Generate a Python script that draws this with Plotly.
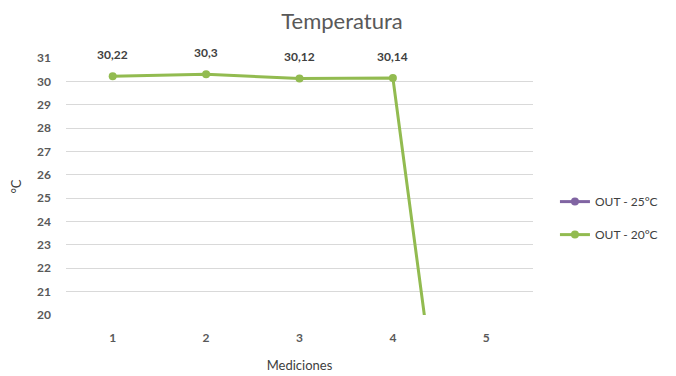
import plotly.graph_objects as go

categories = ["1", "2", "3", "4", "5"]
out_25 = [0, 0, 0, 0, 0]
out_20 = [30.22, 30.3, 30.12, 30.14, 0]
y_ticks = list(range(20, 32))
Y_MIN, Y_MAX = 20, 31

def fmt(v):
    return ("%g" % v).replace(".", ",")

FONT = "Lato, 'Open Sans', sans-serif"

fig = go.Figure()
fig.add_trace(go.Scatter(
    x=categories, y=out_25, name="OUT - 25°C", mode="lines+markers",
    line=dict(color="#8064A2", width=3), marker=dict(size=8, color="#8064A2"),
    legendgroup="a", cliponaxis=True,
))
fig.add_trace(go.Scatter(
    x=categories, y=out_20, name="OUT - 20°C", mode="lines+markers",
    line=dict(color="#92BB50", width=3), marker=dict(size=8, color="#92BB50"),
    legendgroup="b", cliponaxis=True,
))

# data labels for the points inside the visible range (x given as category index)
for i, v in enumerate(out_20):
    if Y_MIN <= v <= Y_MAX:
        fig.add_annotation(x=i, y=v, text=fmt(v), showarrow=False, yshift=22,
                           yanchor="middle",
                           font=dict(size=12, color="#404040", family=FONT, weight="bold"))

fig.update_layout(
    width=668, height=368,
    margin=dict(l=58, r=143, t=50, b=61),
    paper_bgcolor="white", plot_bgcolor="white",
    font=dict(family=FONT, color="#595959", size=11),
    title=dict(text="Temperatura", x=0.5, xref="container", xanchor="center",
               y=0.965, yanchor="middle",
               font=dict(size=22, color="#595959", family=FONT)),
    xaxis=dict(type="category", range=[-0.5, 4.5], showgrid=False, zeroline=False,
               showline=False, ticks="", ticklabelstandoff=14, automargin=False,
               tickfont=dict(size=12, color="#595959", family=FONT, weight="bold"),
               title=dict(text="Mediciones", standoff=16,
                          font=dict(size=13, color="#404040", family=FONT))),
    yaxis=dict(range=[Y_MIN, Y_MAX], tickvals=y_ticks, showgrid=True, gridcolor="#D9D9D9",
               gridwidth=1, zeroline=False, showline=False, ticks="",
               ticklabelstandoff=14, automargin=False,
               tickfont=dict(size=12, color="#595959", family=FONT, weight="bold"),
               title=dict(text="°C", standoff=12,
                          font=dict(size=13, color="#404040", family=FONT))),
    legend=dict(x=1.047, xanchor="left", y=0.377, yanchor="middle",
                traceorder="grouped", tracegroupgap=14,
                font=dict(size=12, color="#404040", family=FONT)),
    showlegend=True,
)

fig.write_html("out.html")
